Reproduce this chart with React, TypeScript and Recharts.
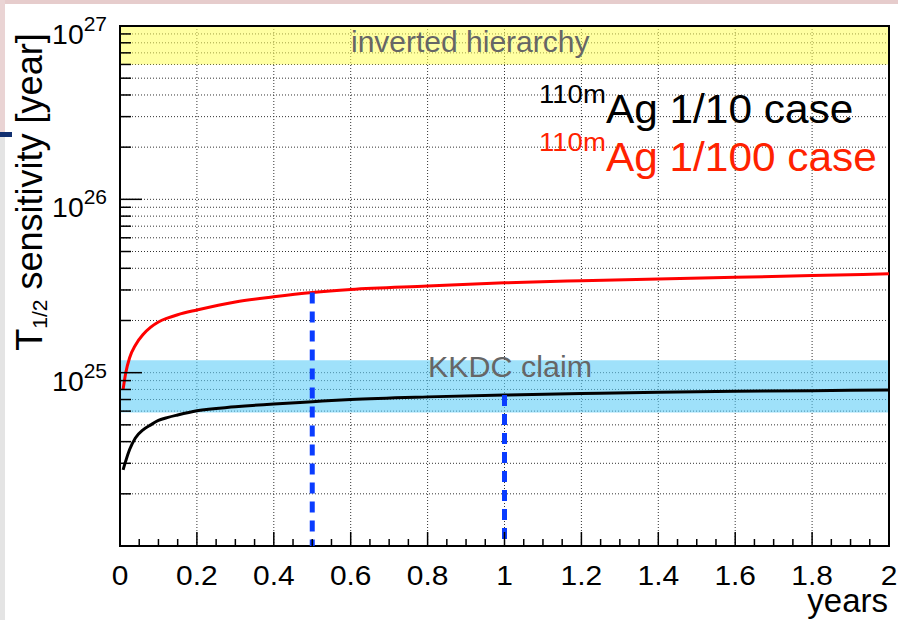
import React from 'react';
import { LineChart, Line, XAxis, YAxis, CartesianGrid, ReferenceArea } from 'recharts';

// ---- data ----
const years = [0.008, 0.015, 0.025, 0.04, 0.06, 0.08, 0.1, 0.125, 0.15, 0.2, 0.3, 0.4, 0.5, 0.6, 0.8, 1.0, 1.2, 1.4, 1.6, 1.8, 2.0];
const sensAg1over100 = [8.0e24, 1.0e25, 1.22e25, 1.44e25, 1.66e25, 1.83e25, 1.96e25, 2.07e25, 2.16e25, 2.3e25, 2.56e25, 2.74e25, 2.9e25, 3.02e25, 3.16e25, 3.3e25, 3.39e25, 3.47e25, 3.55e25, 3.63e25, 3.72e25];
const sensAg1over10 = [2.75e24, 3.1e24, 3.6e24, 4.2e24, 4.68e24, 5.0e24, 5.3e24, 5.52e24, 5.7e24, 6.03e24, 6.35e24, 6.6e24, 6.8e24, 7.0e24, 7.25e24, 7.43e24, 7.58e24, 7.71e24, 7.8e24, 7.87e24, 7.94e24];

const markerYears = [0.5, 1.0];
const markerTops = [2.9e25, 7.43e24];
const markerBottom = 1e24;

const invertedHierarchyBand = [6e26, 1e27];
const kkdcClaimBand = [5.9e24, 1.18e25];

const xMajorTicks = [0, 0.2, 0.4, 0.6, 0.8, 1.0, 1.2, 1.4, 1.6, 1.8, 2.0];
const xTickLabels = ['0', '0.2', '0.4', '0.6', '0.8', '1', '1.2', '1.4', '1.6', '1.8', '2'];
const yDecades = [1e24, 1e25, 1e26, 1e27];
const yMinorMultipliers = [2, 3, 4, 5, 6, 7, 8, 9];

// ---- derived tables ----
const xAllTicks: number[] = [];
xMajorTicks.forEach((v, i) => {
  xAllTicks.push(v);
  if (i < xMajorTicks.length - 1) {
    const next = xMajorTicks[i + 1];
    const step = (next - v) / 4;
    for (let k = 1; k < 4; k++) xAllTicks.push(+(v + k * step).toFixed(4));
  }
});
const yAllTicks: number[] = [];
yDecades.forEach((d, i) => {
  yAllTicks.push(d);
  if (i < yDecades.length - 1) yMinorMultipliers.forEach((m) => yAllTicks.push(m * d));
});

const redData = years.map((x, i) => ({ x, y: sensAg1over100[i] }));
const blackData = years.map((x, i) => ({ x, y: sensAg1over10[i] }));
const markerData = markerYears.map((x, i) => [
  { x, y: markerTops[i] },
  { x, y: markerBottom },
]);

const FONT = '"Liberation Sans", Arial, Helvetica, sans-serif';

const YTick = (props: any) => {
  const { x, y, payload } = props;
  const v = payload.value as number;
  const exp = Math.round(Math.log10(v));
  const isMajor = Math.abs(v - Math.pow(10, exp)) < v * 1e-6;
  return (
    <g>
      <line x1={x} x2={x + (isMajor ? 22 : 11)} y1={y} y2={y} stroke="#000" strokeWidth={1.5} />
      {isMajor && exp > 24 && (
        <text
          transform={`translate(${x - 13},${y + 18}) scale(1.05,1)`}
          textAnchor="end"
          fontSize={27}
          fontFamily={FONT}
          fill="#000"
        >
          10
          <tspan dy={-13} fontSize={20}>
            {exp}
          </tspan>
        </text>
      )}
    </g>
  );
};

const XTick = (props: any) => {
  const { x, y, payload } = props;
  const v = payload.value as number;
  const idx = xMajorTicks.findIndex((m) => Math.abs(m - v) < 1e-6);
  const isMajor = idx >= 0;
  return (
    <g>
      <line x1={x} x2={x} y1={y} y2={y - (isMajor ? 14 : 7)} stroke="#000" strokeWidth={1.5} />
      {isMajor && (
        <text
          transform={`translate(${x},${y + 39}) scale(1.07,1)`}
          textAnchor="middle"
          fontSize={28}
          fontFamily={FONT}
          fill="#000"
        >
          {xTickLabels[idx]}
        </text>
      )}
    </g>
  );
};

const verticalGen = ({ xAxis, offset }: any) =>
  xMajorTicks.map((v) => {
    if (xAxis && typeof xAxis.scale === 'function') return xAxis.scale(v);
    return offset.left + (v / 2) * offset.width;
  });

export default function App() {
  return (
    <div style={{ position: 'absolute', left: 0, top: 0, width: 898, height: 620, background: '#fff', overflow: 'hidden' }}>
      <div style={{ position: 'absolute', left: 0, top: 0, width: 898, height: 4, background: '#e6cccc' }} />
      <div style={{ position: 'absolute', left: 0, top: 0, width: 5, height: 132, background: '#ead4d4' }} />
      <div style={{ position: 'absolute', left: 0, top: 132, width: 12, height: 5, background: '#123070' }} />
      <div style={{ position: 'absolute', left: 0, top: 137, width: 5, height: 483, background: '#e4e4e4' }} />
      <div style={{ position: 'absolute', left: 0, top: 0 }}>
        <LineChart width={898} height={620} margin={{ top: 26, right: 9, bottom: 0, left: 0 }}>
          <CartesianGrid
            stroke="#333"
            strokeDasharray="1 2"
            strokeWidth={1}
            verticalCoordinatesGenerator={verticalGen}
          />
          <XAxis
            dataKey="x"
            type="number"
            domain={[0, 2]}
            ticks={xAllTicks}
            interval={0}
            tick={<XTick />}
            tickLine={false}
            axisLine={false}
            tickSize={0}
            tickMargin={0}
            height={74}
            allowDataOverflow
          />
          <YAxis
            type="number"
            scale="log"
            domain={[1e24, 1e27]}
            ticks={yAllTicks}
            interval={0}
            tick={<YTick />}
            tickLine={false}
            axisLine={false}
            tickSize={0}
            tickMargin={0}
            width={120}
            allowDataOverflow
          />
          <ReferenceArea
            x1={0}
            x2={2}
            y1={invertedHierarchyBand[0]}
            y2={invertedHierarchyBand[1]}
            fill="#ffff55"
            fillOpacity={0.55}
            stroke="none"
          />
          <ReferenceArea
            x1={0}
            x2={2}
            y1={kkdcClaimBand[0]}
            y2={kkdcClaimBand[1]}
            fill="#5fcdf6"
            fillOpacity={0.6}
            stroke="none"
          />
          <Line data={redData} dataKey="y" type="monotone" stroke="#ff0000" strokeWidth={3} dot={false} isAnimationActive={false} />
          <Line data={blackData} dataKey="y" type="monotone" stroke="#000000" strokeWidth={3} dot={false} isAnimationActive={false} />
          {markerData.map((d, i) => (
            <Line
              key={i}
              data={d}
              dataKey="y"
              type="linear"
              stroke="#0a3cff"
              strokeWidth={5}
              strokeDasharray="11 8"
              dot={false}
              isAnimationActive={false}
            />
          ))}
          <ReferenceArea x1={0} x2={2} y1={1e24} y2={1e27} fill="none" stroke="#000" strokeWidth={2} />
        </LineChart>
      </div>
      <svg
        width={898}
        height={620}
        style={{ position: 'absolute', left: 0, top: 0, pointerEvents: 'none' }}
        fontFamily={FONT}
      >
        <text x={351} y={52} fontSize={30} fill="#666">inverted hierarchy</text>
        <text transform="translate(428,377) scale(1.05,1)" fontSize={29} fill="#666">KKDC claim</text>
        <text transform="translate(539,123) scale(1.06,1)" fontSize={40} fill="#000">
          <tspan fontSize={26} dy={-20}>110m</tspan>
          <tspan dy={20}>Ag 1/10 case</tspan>
        </text>
        <text transform="translate(539,171) scale(1.06,1)" fontSize={40} fill="#ff2200">
          <tspan fontSize={26} dy={-20}>110m</tspan>
          <tspan dy={20}>Ag 1/100 case</tspan>
        </text>
        <text x={888} y={612} fontSize={33} textAnchor="end" fill="#000">years</text>
        <text transform="translate(42,192) rotate(-90)" textAnchor="middle" fontSize={36} fill="#000">
          T
          <tspan fontSize={21} dy={5}>1/2</tspan>
          <tspan dy={-5}> sensitivity [year]</tspan>
        </text>
      </svg>
    </div>
  );
}
